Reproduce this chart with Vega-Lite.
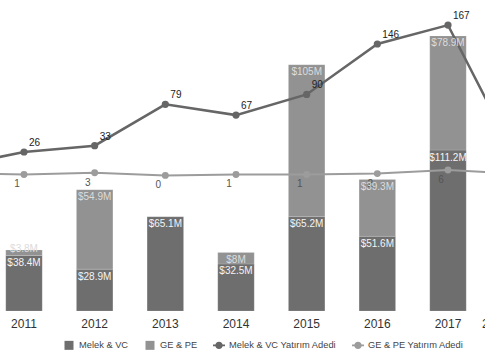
{
  "$schema": "https://vega.github.io/schema/vega-lite/v6.json",
  "width": 636,
  "height": 301,
  "autosize": {"type": "none"},
  "padding": {"left": -82, "top": 10, "right": -69, "bottom": 49},
  "background": "white",
  "config": {
    "font": "Liberation Sans",
    "view": {"stroke": null},
    "axisX": {"domain": false, "ticks": false, "grid": false, "labelFontSize": 12, "labelColor": "#333333", "labelPadding": 7, "labelAngle": 0, "labelFlush": 60, "labelFlushOffset": -10}
  },
  "datasets": {
    "amounts": [
      {"year": 2011, "series": "Melek & VC", "amount": 38.4},
      {"year": 2011, "series": "GE & PE", "amount": 3.8},
      {"year": 2012, "series": "Melek & VC", "amount": 28.9},
      {"year": 2012, "series": "GE & PE", "amount": 54.9},
      {"year": 2013, "series": "Melek & VC", "amount": 65.1},
      {"year": 2014, "series": "Melek & VC", "amount": 32.5},
      {"year": 2014, "series": "GE & PE", "amount": 8},
      {"year": 2015, "series": "Melek & VC", "amount": 65.2},
      {"year": 2015, "series": "GE & PE", "amount": 105},
      {"year": 2016, "series": "Melek & VC", "amount": 51.6},
      {"year": 2016, "series": "GE & PE", "amount": 39.3},
      {"year": 2017, "series": "Melek & VC", "amount": 111.2},
      {"year": 2017, "series": "GE & PE", "amount": 78.9}
    ],
    "counts": [
      {"year": 2010, "series": "Melek & VC Yatırım Adedi", "count": 10},
      {"year": 2011, "series": "Melek & VC Yatırım Adedi", "count": 26},
      {"year": 2012, "series": "Melek & VC Yatırım Adedi", "count": 33},
      {"year": 2013, "series": "Melek & VC Yatırım Adedi", "count": 79},
      {"year": 2014, "series": "Melek & VC Yatırım Adedi", "count": 67},
      {"year": 2015, "series": "Melek & VC Yatırım Adedi", "count": 90},
      {"year": 2016, "series": "Melek & VC Yatırım Adedi", "count": 146},
      {"year": 2017, "series": "Melek & VC Yatırım Adedi", "count": 167},
      {"year": 2018, "series": "Melek & VC Yatırım Adedi", "count": 14},
      {"year": 2010, "series": "GE & PE Yatırım Adedi", "count": 3},
      {"year": 2011, "series": "GE & PE Yatırım Adedi", "count": 1},
      {"year": 2012, "series": "GE & PE Yatırım Adedi", "count": 3},
      {"year": 2013, "series": "GE & PE Yatırım Adedi", "count": 0},
      {"year": 2014, "series": "GE & PE Yatırım Adedi", "count": 1},
      {"year": 2015, "series": "GE & PE Yatırım Adedi", "count": 1},
      {"year": 2016, "series": "GE & PE Yatırım Adedi", "count": 2},
      {"year": 2017, "series": "GE & PE Yatırım Adedi", "count": 6},
      {"year": 2018, "series": "GE & PE Yatırım Adedi", "count": 2}
    ]
  },
  "resolve": {"scale": {"y": "independent"}},
  "layer": [
    {
      "data": {"name": "amounts"},
      "transform": [
        {"calculate": "datum.series === 'Melek & VC' ? 0 : 1", "as": "so"},
        {"stack": "amount", "groupby": ["year"], "sort": [{"field": "so", "order": "ascending"}], "as": ["v0", "v1"]}
      ],
      "mark": {"type": "bar", "stroke": "#ffffff", "strokeOpacity": 0.15, "strokeWidth": 1},
      "encoding": {
        "x": {"field": "year", "type": "ordinal", "title": null, "scale": {"domain": [2010, 2011, 2012, 2013, 2014, 2015, 2016, 2017, 2018], "paddingInner": 0.484, "paddingOuter": 0.242}},
        "y": {"field": "v1", "type": "quantitative", "axis": null, "scale": {"domain": [0, 208], "nice": false, "zero": true}},
        "y2": {"field": "v0"},
        "color": {
          "field": "series", "type": "nominal", "title": null,
          "scale": {"domain": ["Melek & VC", "GE & PE", "Melek & VC Yatırım Adedi", "GE & PE Yatırım Adedi"], "range": ["#6e6e6e", "#929292", "#666666", "#9c9c9c"]},
          "legend": {
            "orient": "none", "legendX": 145, "legendY": 329, "direction": "horizontal", "columns": 4,
            "padding": 0, "columnPadding": 15, "labelOffset": 4, "labelFontSize": 9.3, "labelColor": "#444444",
            "symbolSize": 144, "symbolStrokeWidth": 0, "symbolOpacity": 1,
            "encoding": {"symbols": {
              "shape": {"condition": {"test": "datum.value === 'Melek & VC' || datum.value === 'GE & PE'", "value": "M-0.75,-0.75H0.75V0.75H-0.75Z"}, "value": "M-1,-0.15H1V0.15H-1Z M-0.62,0A0.62,0.62 0 1 1 0.62,0A0.62,0.62 0 1 1 -0.62,0Z"}
            }}
          }
        }
      }
    },
    {
      "data": {"name": "counts"},
      "transform": [{"filter": "datum.series === 'GE & PE Yatırım Adedi'"}],
      "mark": {"type": "line", "strokeWidth": 2, "point": {"filled": true, "size": 48, "opacity": 1}},
      "encoding": {
        "x": {"field": "year", "type": "ordinal", "title": null},
        "y": {"field": "count", "type": "quantitative", "axis": null, "scale": {"domain": [-150.7, 183.8], "nice": false, "zero": false}},
        "color": {"field": "series", "type": "nominal", "title": null}
      }
    },
    {
      "data": {"name": "counts"},
      "transform": [{"filter": "datum.series === 'Melek & VC Yatırım Adedi'"}],
      "mark": {"type": "line", "strokeWidth": 2.5, "point": {"filled": true, "size": 52, "opacity": 1}},
      "encoding": {
        "x": {"field": "year", "type": "ordinal", "title": null},
        "y": {"field": "count", "type": "quantitative", "axis": null, "scale": {"domain": [-150.7, 183.8], "nice": false, "zero": false}},
        "color": {"field": "series", "type": "nominal", "title": null}
      }
    },
    {
      "data": {"name": "counts"},
      "transform": [{"filter": "datum.series === 'Melek & VC Yatırım Adedi'"}],
      "mark": {"type": "text", "align": "left", "baseline": "middle", "dx": 5, "dy": -9, "fontSize": 10, "color": "#222222"},
      "encoding": {
        "x": {"field": "year", "type": "ordinal", "title": null},
        "y": {"field": "count", "type": "quantitative", "axis": null, "scale": {"domain": [-150.7, 183.8], "nice": false, "zero": false}},
        "text": {"field": "count", "type": "quantitative"}
      }
    },
    {
      "data": {"name": "counts"},
      "transform": [{"filter": "datum.series === 'GE & PE Yatırım Adedi'"}],
      "mark": {"type": "text", "align": "center", "baseline": "middle", "dx": -7, "dy": 10, "fontSize": 10, "color": "#555555"},
      "encoding": {
        "x": {"field": "year", "type": "ordinal", "title": null},
        "y": {"field": "count", "type": "quantitative", "axis": null, "scale": {"domain": [-150.7, 183.8], "nice": false, "zero": false}},
        "text": {"field": "count", "type": "quantitative"}
      }
    },
    {
      "data": {"name": "amounts"},
      "transform": [
        {"calculate": "datum.series === 'Melek & VC' ? 0 : 1", "as": "so"},
        {"stack": "amount", "groupby": ["year"], "sort": [{"field": "so", "order": "ascending"}], "as": ["v0", "v1"]},
        {"calculate": "'$' + datum.amount + 'M'", "as": "lab"},
        {"calculate": "datum.amount < 5 ? datum.v1 + 0.6 : datum.v1 - 5.2", "as": "ly"}
      ],
      "mark": {"type": "text", "baseline": "middle", "align": "center", "fontSize": 10},
      "encoding": {
        "x": {"field": "year", "type": "ordinal", "title": null},
        "y": {"field": "ly", "type": "quantitative", "axis": null, "scale": {"domain": [0, 208], "nice": false, "zero": true}},
        "text": {"field": "lab", "type": "nominal"},
        "color": {"condition": {"test": "datum.series === 'Melek & VC'", "value": "#f4f4f4"}, "value": "#dcdcdc"}
      }
    }
  ]
}
